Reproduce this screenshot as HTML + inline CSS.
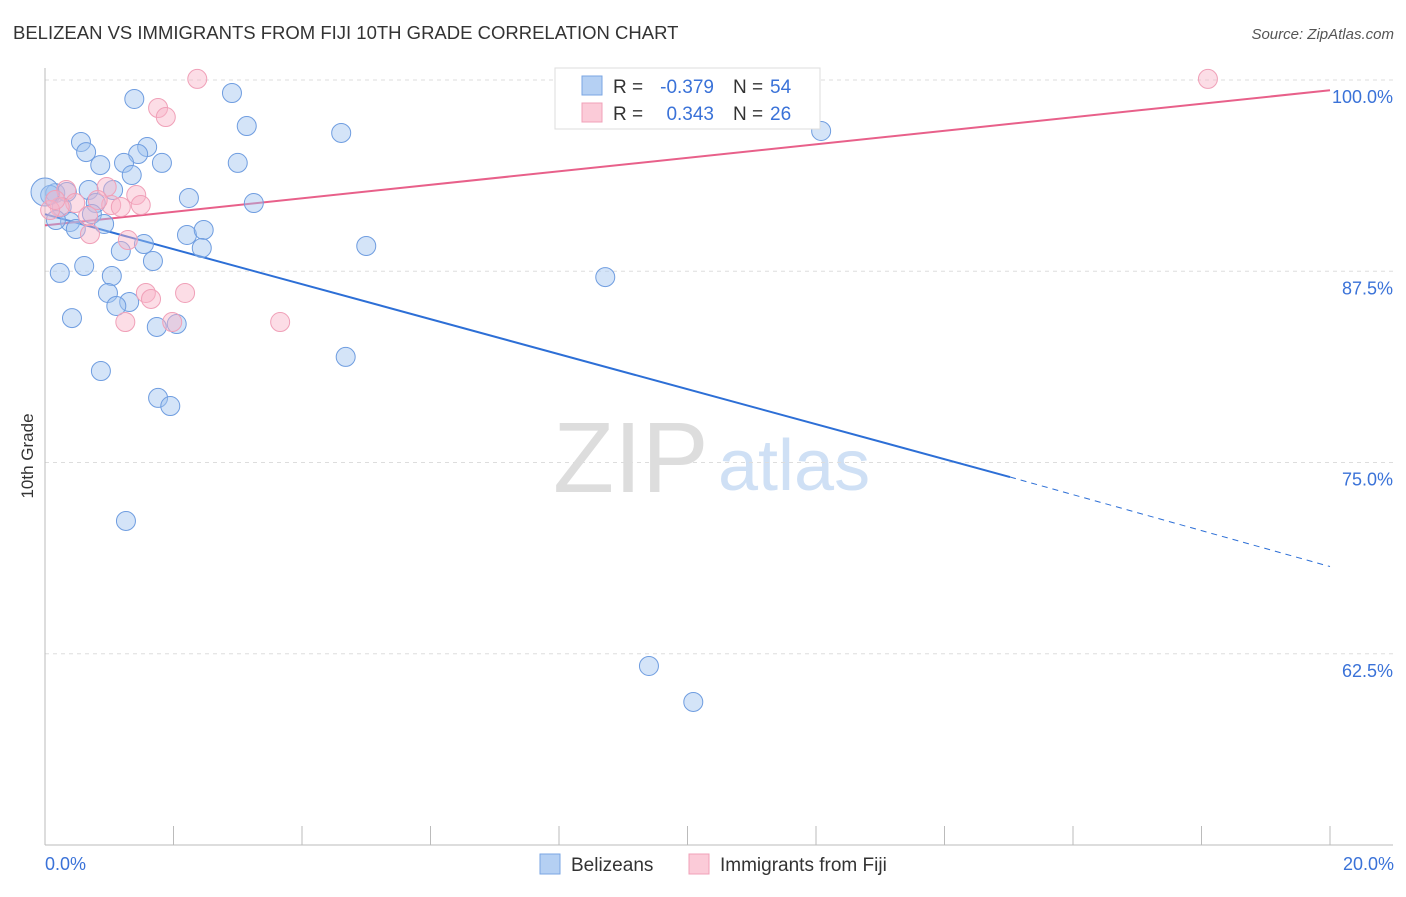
<!DOCTYPE html>
<html><head><meta charset="utf-8"><style>
body{margin:0;background:#fff;font-family:"Liberation Sans",sans-serif}
svg text{font-family:"Liberation Sans",sans-serif}
</style></head><body>
<svg width="1406" height="892" viewBox="0 0 1406 892" id="chart">
<text x="13" y="39" font-size="18.5" fill="#333">BELIZEAN VS IMMIGRANTS FROM FIJI 10TH GRADE CORRELATION CHART</text>
<text x="1394" y="39" font-size="15" fill="#555" text-anchor="end" font-style="italic">Source: ZipAtlas.com</text>
<text x="0" y="0" transform="translate(33,456) rotate(-90)" font-size="17" fill="#333" text-anchor="middle">10th Grade</text>
<g>
<text x="553" y="492" font-size="100" font-family="Liberation Serif" fill="#ddd">ZIP</text>
<text x="718" y="490" font-size="72" fill="#cfe0f5">atlas</text>
</g>
<g id="grid"></g><g id="axes"></g><g id="lines"></g><g id="pts"></g>
<g>
<rect x="555" y="68" width="265" height="61" fill="#fff" stroke="#ddd"/>
<rect x="582" y="76" width="20" height="19" fill="#b5d0f3" stroke="#7aa6e3"/>
<text x="613" y="93" font-size="19" fill="#333">R =</text>
<text x="714" y="93" font-size="19" fill="#3a72d8" text-anchor="end">-0.379</text>
<text x="733" y="93" font-size="19" fill="#333">N =</text>
<text x="770" y="93" font-size="19" fill="#3a72d8">54</text>
<rect x="582" y="103" width="20" height="19" fill="#fbcbd8" stroke="#f0a0b8"/>
<text x="613" y="120" font-size="19" fill="#333">R =</text>
<text x="714" y="120" font-size="19" fill="#3a72d8" text-anchor="end">0.343</text>
<text x="733" y="120" font-size="19" fill="#333">N =</text>
<text x="770" y="120" font-size="19" fill="#3a72d8">26</text>
</g>
<g>
<rect x="540" y="854" width="20" height="20" fill="#b5d0f3" stroke="#7aa6e3"/>
<text x="571" y="871" font-size="19" fill="#333">Belizeans</text>
<rect x="689" y="854" width="20" height="20" fill="#fbcbd8" stroke="#f0a0b8"/>
<text x="720" y="871" font-size="19" fill="#333">Immigrants from Fiji</text>
</g>
<text x="45" y="870" font-size="18" fill="#3a72d8">0.0%</text>
<text x="1394" y="870" font-size="18" fill="#3a72d8" text-anchor="end">20.0%</text>
</svg>
<script>
const yTicks=[100,87.5,75,62.5];
const yTickLabels=["100.0%","87.5%","75.0%","62.5%"];
const xTicks=[0,2,4,6,8,10,12,14,16,18,20];
const blueX=[1.39,2.91,3.14,4.61,12.08,0.56,0.64,1.59,1.45,1.23,0.86,1.82,3.00,1.35,1.06,0.68,0.16,0.08,0.34,2.24,3.25,0.79,0.26,0.73,0.39,0.17,0.48,0.92,2.21,2.47,2.44,1.54,1.18,5.00,1.68,0.61,1.04,0.23,8.72,0.98,1.31,1.11,0.42,1.74,2.05,4.68,0.87,1.76,1.95,1.26,9.40,10.09,0.0];
const blueY=[98.76,99.15,96.99,96.54,96.67,95.95,95.29,95.62,95.16,94.58,94.44,94.58,94.58,93.79,92.81,92.81,92.61,92.48,92.68,92.29,91.96,91.96,91.70,91.24,90.72,90.85,90.26,90.59,89.87,90.20,89.02,89.28,88.82,89.15,88.17,87.84,87.19,87.39,87.12,86.08,85.49,85.23,84.44,83.86,84.05,81.90,80.98,79.22,78.69,71.18,61.70,59.35,92.68];
const pinkX=[2.37,1.76,1.88,18.10,0.33,0.96,1.42,1.03,1.49,1.18,0.82,0.47,0.23,0.67,0.70,1.29,1.57,1.65,2.18,1.98,1.25,3.66,0.08,0.16];
const pinkY=[100.07,98.17,97.58,100.07,92.81,93.01,92.48,91.83,91.83,91.70,92.16,91.96,91.70,91.11,89.93,89.54,86.08,85.69,86.08,84.18,84.18,84.18,91.50,92.16];
const blueTrend=[91.23,74.05,68.2];
const blueTrendX=[0,15.02,20];
const pinkTrend=[90.5,99.33];
const NS="http://www.w3.org/2000/svg";
const X=v=>45+v*64.25, Y=v=>80+(100-v)*15.3;
function mk(t,a,p){const e=document.createElementNS(NS,t);for(const k in a)e.setAttribute(k,a[k]);document.getElementById(p).appendChild(e);return e;}
yTicks.forEach((t,i)=>{
 const l=mk('line',{x1:45,x2:1393,y1:Y(t),y2:Y(t),stroke:'#ddd','stroke-dasharray':'4,4'},'grid');
 
 
 const tx=mk('text',{x:1393,y:Y(t)+23,'font-size':18,fill:'#3a72d8','text-anchor':'end'},'grid');
 tx.textContent=yTickLabels[i];
 
 
});
const ax=mk('line',{x1:45,x2:45,y1:68,y2:845,stroke:'#bbb'},'axes');


const bx=mk('line',{x1:45,x2:1393,y1:845,y2:845,stroke:'#bbb'},'axes');


xTicks.forEach(t=>{
 const l=mk('line',{x1:X(t),x2:X(t),y1:826,y2:845,stroke:'#bbb'},'axes');
 
 
});
blueX.forEach((v,i)=>{
 const c=mk('circle',{cx:X(v),cy:Y(blueY[i]),r:i==blueX.length-1?14:9.5,fill:'rgba(160,196,240,0.45)',stroke:'#6f9de0','stroke-width':1},'pts');
 
 
});
pinkX.forEach((v,i)=>{
 const c=mk('circle',{cx:X(v),cy:Y(pinkY[i]),r:9.5,fill:'rgba(248,180,200,0.45)',stroke:'#f0a0b8','stroke-width':1},'pts');
 
 
});
const b1=mk('line',{x1:X(blueTrendX[0]),y1:Y(blueTrend[0]),x2:X(blueTrendX[1]),y2:Y(blueTrend[1]),stroke:'#2d6fd6','stroke-width':2},'lines');


const b2=mk('line',{x1:X(blueTrendX[1]),y1:Y(blueTrend[1]),x2:X(blueTrendX[2]),y2:Y(blueTrend[2]),stroke:'#2d6fd6','stroke-width':1,'stroke-dasharray':'6,5'},'lines');


const p1=mk('line',{x1:X(0),y1:Y(pinkTrend[0]),x2:X(20),y2:Y(pinkTrend[1]),stroke:'#e8608a','stroke-width':2},'lines');


</script>
</body></html>
